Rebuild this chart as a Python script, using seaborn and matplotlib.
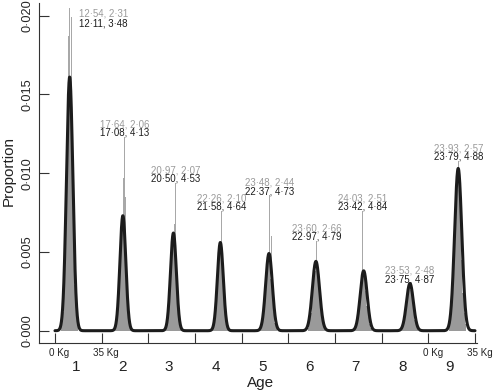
import numpy as np
import pandas as pd
import matplotlib
matplotlib.use("Agg")
import matplotlib.pyplot as plt
import seaborn as sns

sns.set_style("ticks")
plt.rcParams['font.family'] = ['Liberation Sans', 'DejaVu Sans']

# ---------------- data ----------------
ages = [1, 2, 3, 4, 5, 6, 7, 8, 9]
segment_kg = 35

# fitted (black) curves: centre (kg within segment), sd (kg), peak proportion
curve_center = [11.0, 15.9, 18.8, 19.0, 20.5, 20.7, 21.5, 21.2, 22.4]
curve_sd = [2.4, 2.2, 2.2, 2.2, 2.5, 2.7, 2.6, 2.6, 2.7]
curve_peak = [0.0161, 0.0073, 0.0062, 0.0056, 0.0049, 0.0044, 0.0038, 0.0030, 0.0103]

# observed (grey) histogram, 1 kg bins, 13 bins around a centre bin
hist_center_bin = [11, 16, 19, 19, 20, 21, 21, 21, 22]
hist_values = [
    [0.0004, 0.0012, 0.0029, 0.0060, 0.0101, 0.0138, 0.0153, 0.0138, 0.0101, 0.0060, 0.0029, 0.0012, 0.0004],
    [0.0002, 0.0005, 0.0013, 0.0027, 0.0046, 0.0063, 0.0069, 0.0062, 0.0045, 0.0028, 0.0013, 0.0005, 0.0002],
    [0.0001, 0.0004, 0.0011, 0.0023, 0.0039, 0.0053, 0.0059, 0.0053, 0.0039, 0.0023, 0.0011, 0.0005, 0.0002],
    [0.0001, 0.0004, 0.0010, 0.0021, 0.0035, 0.0048, 0.0053, 0.0048, 0.0035, 0.0021, 0.0010, 0.0004, 0.0002],
    [0.0002, 0.0005, 0.0012, 0.0022, 0.0033, 0.0043, 0.0047, 0.0043, 0.0033, 0.0022, 0.0012, 0.0005, 0.0002],
    [0.0002, 0.0005, 0.0011, 0.0020, 0.0030, 0.0038, 0.0042, 0.0038, 0.0030, 0.0020, 0.0011, 0.0005, 0.0002],
    [0.0002, 0.0004, 0.0009, 0.0016, 0.0025, 0.0033, 0.0036, 0.0033, 0.0025, 0.0016, 0.0009, 0.0004, 0.0002],
    [0.0001, 0.0003, 0.0007, 0.0013, 0.0020, 0.0026, 0.0028, 0.0026, 0.0020, 0.0013, 0.0007, 0.0003, 0.0001],
    [0.0004, 0.0011, 0.0024, 0.0045, 0.0069, 0.0089, 0.0098, 0.0089, 0.0069, 0.0045, 0.0024, 0.0011, 0.0004],
]

# heaping spikes: age index, kg within segment, proportion
spike_age = [1, 1, 1, 2, 2, 2, 3, 3, 4, 4, 5, 5, 6, 7, 8, 9]
spike_kg = [10.0, 10.7, 12.2, 16.2, 17.3, 18.0, 19.3, 20.4, 19.5, 20.2, 22.0, 21.2, 21.0, 20.5, 21.0, 22.4]
spike_val = [0.0187, 0.0205, 0.0199, 0.0097, 0.0123, 0.0085, 0.0068, 0.0094, 0.0066, 0.0076, 0.0060, 0.0086, 0.0057, 0.0076, 0.0030, 0.0108]

# annotation numbers: observed mean, sd (grey) and fitted mean, sd (black)
obs_mean = [12.54, 17.64, 20.97, 22.26, 23.48, 23.60, 24.03, 23.53, 23.93]
obs_sd = [2.31, 2.06, 2.07, 2.10, 2.44, 2.66, 2.51, 2.48, 2.57]
fit_mean = [12.11, 17.08, 20.50, 21.58, 22.37, 22.97, 23.42, 23.75, 23.79]
fit_sd = [3.48, 4.13, 4.53, 4.64, 4.73, 4.79, 4.84, 4.87, 4.88]

y_ticks = [0.000, 0.005, 0.010, 0.015, 0.020]
kg_tick_labels = {0: "0 Kg", 35: "35 Kg", 280: "0 Kg", 315: "35 Kg"}

# ---------------- drawing ----------------
def dot(v, nd):
    return f"{v:.{nd}f}".replace(".", "\u00b7")

fig = plt.figure(figsize=(4.93, 3.92), dpi=100)
ax = fig.add_axes([39 / 493, 49 / 392, 438 / 493, 340 / 392])

grey = "#9a9a9a"
spike_grey = "#a8a8a8"
ink = "#1c1c1c"

# grey histogram
bx, bh = [], []
for i, (cb, vals) in enumerate(zip(hist_center_bin, hist_values)):
    for k, v in enumerate(vals):
        bx.append(i * segment_kg + cb + (k - 6))
        bh.append(v)
ax.bar(bx, bh, width=1.0, color=grey, linewidth=0, zorder=2)

sx = [(a - 1) * segment_kg + k for a, k in zip(spike_age, spike_kg)]
ax.bar(sx, spike_val, width=0.75, color=spike_grey, linewidth=0, zorder=1)

# black fitted curves
xg = np.linspace(0, segment_kg * len(ages), 4000)
yg = np.zeros_like(xg)
for i in range(len(ages)):
    yg += curve_peak[i] * np.exp(-0.5 * ((xg - (i * segment_kg + curve_center[i])) / curve_sd[i]) ** 2)
df = pd.DataFrame({"kg": xg, "prop": yg})
sns.lineplot(data=df, x="kg", y="prop", ax=ax, color=ink, linewidth=2.2,
             estimator=None, sort=False, zorder=3)

# annotations
fs_ann = 7.0
for i in range(len(ages)):
    sel = [j for j, a in enumerate(spike_age) if a == ages[i]]
    jt = max(sel, key=lambda j: spike_val[j])
    x0, y0 = sx[jt], spike_val[jt]
    g_txt = f"{dot(obs_mean[i], 2)}, {dot(obs_sd[i], 2)}"
    b_txt = f"{dot(fit_mean[i], 2)}, {dot(fit_sd[i], 2)}"
    if i == 0:
        ax.annotate(g_txt, (x0, y0), xytext=(10, -6), textcoords="offset pixels",
                    ha="left", va="center", fontsize=fs_ann, color="#9a9a9a")
        ax.annotate(b_txt, (x0, y0), xytext=(10, -16), textcoords="offset pixels",
                    ha="left", va="center", fontsize=fs_ann, color=ink)
    else:
        ax.annotate(g_txt, (x0, y0), xytext=(0, 12.5), textcoords="offset pixels",
                    ha="center", va="center", fontsize=fs_ann, color="#9a9a9a")
        ax.annotate(b_txt, (x0, y0), xytext=(0, 4), textcoords="offset pixels",
                    ha="center", va="center", fontsize=fs_ann, color=ink)

# axes
ax.set_xlim(-12, 316.5)
ax.set_ylim(-0.00078, 0.0208)
ax.set_xticks([k * segment_kg for k in range(len(ages) + 1)])
ax.set_xticklabels([])
ax.set_yticks(y_ticks)
ax.set_yticklabels([dot(v, 3) for v in y_ticks], rotation=90, va="center", fontsize=9.2)
ax.tick_params(axis="both", direction="in", length=7, width=0.8, color="#333333")
ax.tick_params(axis="y", pad=4)
sns.despine(ax=ax)
for s in ("left", "bottom"):
    ax.spines[s].set_color("#333333")
    ax.spines[s].set_linewidth(0.8)
ax.set_xlabel("")
ax.set_ylabel("")

for xk, lab in kg_tick_labels.items():
    ax.annotate(lab, (xk, 0), xycoords=("data", "axes fraction"), xytext=(4.5, -10),
                textcoords="offset pixels", ha="center", va="center", fontsize=7.1, color="#222222")
for i, a in enumerate(ages):
    ax.annotate(str(a), (i * segment_kg + 15.6, 0), xycoords=("data", "axes fraction"),
                xytext=(0, -24), textcoords="offset pixels", ha="center", va="center",
                fontsize=11, color="#222222")

fig.text(261 / 493, 1 - 383 / 392, "Age", ha="center", va="center", fontsize=11, color="#222222")
fig.text(9 / 493, 1 - 171 / 392, "Proportion", ha="center", va="center", rotation=90,
         fontsize=11, color="#222222")

fig.savefig("out.png", dpi=100)
